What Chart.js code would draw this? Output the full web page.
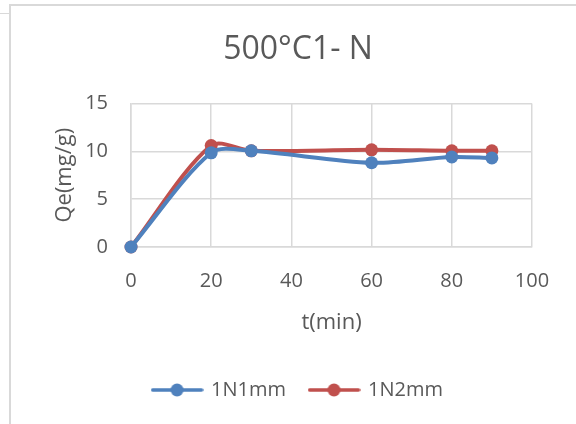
<!DOCTYPE html>
<html>
<head>
<meta charset="utf-8">
<script src="https://cdn.jsdelivr.net/npm/chart.js@4"></script>
<style>
  html, body { margin: 0; padding: 0; background: #fff; }
  #wrap { position: relative; width: 576px; height: 424px; overflow: hidden; background: #fff; }
  #frame { position: absolute; left: 9px; top: 4px; width: 700px; height: 600px;
           border-left: 2px solid #d9d9d9; border-top: 2px solid #d9d9d9; }
  #tick { position: absolute; left: 0; top: 13px; width: 9px; border-top: 1px solid #d9d9d9; }
  canvas { position: absolute; left: 0; top: 0; }
</style>
</head>
<body>
<div id="wrap">
  <div id="frame"></div>
  <div id="tick"></div>
  <canvas id="c" width="576" height="424"></canvas>
</div>
<script>
// ---- data ----
const chartTitle = "500°C1- N";
const timeMin = [0, 20, 30, 60, 80, 90];
const series1Name = "1N1mm";
const series1 = [0, 9.84, 10.05, 8.8, 9.4, 9.3];
const series2Name = "1N2mm";
const series2 = [0, 10.6, 10.05, 10.15, 10.05, 10.05];
const xTitle = "t(min)";
const yTitle = "Qe(mg/g)";

const blue = "#4F81BD";
const red = "#C0504D";
const textColor = "#595959";
const gridColor = "#d9d9d9";
const FONT = "'Open Sans', 'Noto Sans', sans-serif";

function pts(xs, ys) { return xs.map((x, i) => ({ x: x, y: ys[i] })); }

function legendIcon(color) {
  const c = document.createElement('canvas');
  c.width = 53; c.height = 14;
  const g = c.getContext('2d');
  g.strokeStyle = color; g.lineWidth = 3.5; g.lineCap = 'round';
  g.beginPath(); g.moveTo(2, 7); g.lineTo(51, 7); g.stroke();
  g.fillStyle = color;
  g.beginPath(); g.arc(26.5, 7, 6.5, 0, Math.PI * 2); g.fill();
  return c;
}
const icons = [legendIcon(blue), legendIcon(red)];

new Chart(document.getElementById('c'), {
  type: 'line',
  data: {
    datasets: [
      { label: series1Name, data: pts(timeMin, series1), borderColor: blue, backgroundColor: blue,
        borderWidth: 4, pointRadius: 6.5, pointHoverRadius: 6.5, pointBorderWidth: 0, tension: 0.3, clip: false },
      { label: series2Name, data: pts(timeMin, series2), borderColor: red, backgroundColor: red,
        borderWidth: 4, pointRadius: 6.5, pointHoverRadius: 6.5, pointBorderWidth: 0, tension: 0.3, clip: false }
    ]
  },
  options: {
    responsive: false,
    animation: false,
    layout: { padding: { left: 20, right: 0, top: 0, bottom: 14 } },
    plugins: {
      tooltip: { enabled: false },
      title: {
        display: true, text: chartTitle, color: textColor,
        font: { family: FONT, size: 32, weight: 'normal' },
        padding: { top: 31, bottom: 34 }
      },
      legend: {
        display: true, position: 'bottom',
        labels: {
          color: textColor, font: { family: FONT, size: 20 },
          usePointStyle: true, pointStyleWidth: 48, boxHeight: 12, padding: 24,
          generateLabels(chart) {
            const items = Chart.defaults.plugins.legend.labels.generateLabels(chart);
            items.forEach((it, i) => { it.pointStyle = icons[i]; });
            return items;
          }
        }
      }
    },
    scales: {
      x: {
        type: 'linear', min: 0, max: 100,
        ticks: { stepSize: 20, color: textColor, font: { family: FONT, size: 20 }, padding: 22 },
        grid: { color: gridColor, drawTicks: false, lineWidth: 1.5 },
        border: { color: gridColor, width: 1.5 },
        title: { display: true, text: xTitle, color: textColor, font: { family: FONT, size: 22 }, padding: { top: 0, bottom: 20 } },
        afterFit(s) { s.height = 109; }
      },
      y: {
        min: 0, max: 15,
        ticks: { stepSize: 5, color: textColor, font: { family: FONT, size: 20 }, padding: 23 },
        grid: { color: gridColor, drawTicks: false, lineWidth: 1.5 },
        border: { color: gridColor, width: 1.5 },
        title: { display: true, text: yTitle, color: textColor, font: { family: FONT, size: 22 }, padding: { top: 32, bottom: 0 } },
        afterFit(s) { s.width = 111; }
      },
      y2: {
        position: 'right', display: true,
        ticks: { display: false }, grid: { display: false }, border: { display: false },
        afterFit(s) { s.width = 44; }
      }
    }
  }
});
</script>
</body>
</html>
